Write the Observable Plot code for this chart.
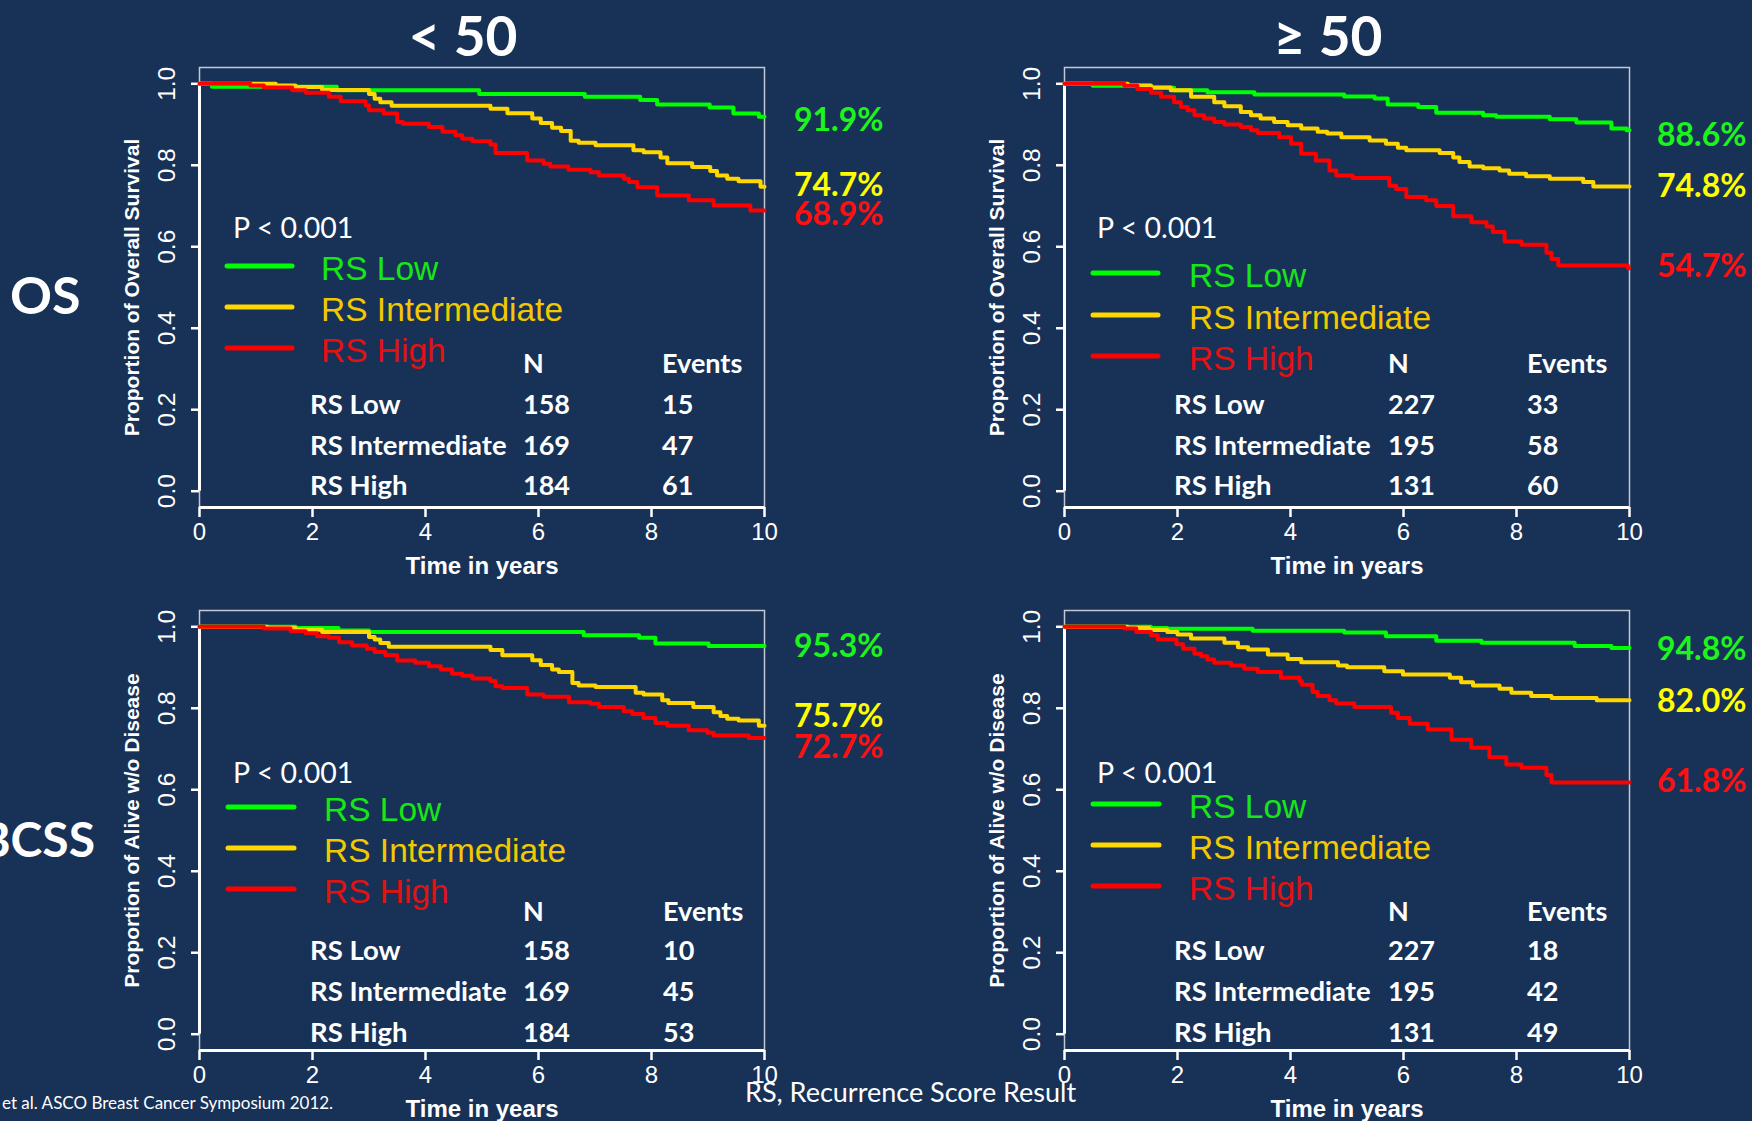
<!DOCTYPE html>
<html>
<head>
<meta charset="utf-8">
<script src="https://cdn.jsdelivr.net/npm/d3@7"></script>
<script src="https://cdn.jsdelivr.net/npm/@observablehq/plot@0.6"></script>
<style>
  html, body { margin: 0; padding: 0; background: #173157; }
  #page { position: relative; width: 1752px; height: 1121px; overflow: hidden; background: #173157; }
  #page .panel { position: absolute; width: 685px; height: 525px; }
  #page svg.overlay { position: absolute; left: 0; top: 0; pointer-events: none; }
</style>
</head>
<body>
<div id="page"></div>
<script>
// Kaplan–Meier step curves: [years, proportion surviving]
const osU50Low = [[0,1],[0.22,0.993],[2.43,0.984],[4.95,0.975],[6.82,0.968],[7.8,0.96],[8.1,0.949],[9.03,0.942],[9.45,0.927],[9.9,0.919],[10,0.919]];
const osU50Int = [[0,1],[1.35,0.996],[1.7,0.992],[2.17,0.985],[3.0,0.975],[3.1,0.963],[3.2,0.955],[3.4,0.946],[5.15,0.939],[5.45,0.928],[5.89,0.915],[6.04,0.904],[6.24,0.892],[6.4,0.884],[6.57,0.86],[6.71,0.855],[7.01,0.849],[7.68,0.837],[7.86,0.832],[8.16,0.819],[8.28,0.805],[8.72,0.796],[9.04,0.786],[9.16,0.775],[9.34,0.767],[9.54,0.761],[9.93,0.747],[10,0.747]];
const osU50High = [[0,1],[0.9,0.996],[1.14,0.991],[1.64,0.984],[1.88,0.978],[2.29,0.968],[2.5,0.957],[2.94,0.947],[3.0,0.935],[3.26,0.927],[3.5,0.906],[3.6,0.902],[4.06,0.894],[4.3,0.882],[4.53,0.874],[4.65,0.865],[4.83,0.859],[5.15,0.851],[5.24,0.83],[5.8,0.812],[6.09,0.804],[6.21,0.797],[6.53,0.789],[6.92,0.783],[7.07,0.775],[7.51,0.767],[7.6,0.759],[7.75,0.746],[8.1,0.726],[8.66,0.714],[9.1,0.701],[9.75,0.689],[10,0.689]];

const osO50Low = [[0,1],[0.5,0.995],[1.53,0.99],[1.94,0.984],[2.53,0.979],[3.36,0.974],[4.95,0.969],[5.49,0.964],[5.72,0.949],[6.26,0.943],[6.58,0.929],[7.41,0.923],[7.64,0.919],[8.59,0.913],[9.06,0.905],[9.68,0.89],[9.95,0.886],[10,0.886]];
const osO50Int = [[0,1],[1.12,0.996],[1.53,0.991],[1.88,0.984],[2.24,0.968],[2.65,0.955],[2.83,0.945],[3.12,0.931],[3.3,0.923],[3.47,0.915],[3.71,0.906],[3.95,0.898],[4.19,0.89],[4.48,0.882],[4.65,0.878],[4.9,0.869],[5.4,0.861],[5.69,0.853],[5.9,0.843],[6.05,0.837],[6.64,0.83],[6.88,0.819],[6.99,0.808],[7.17,0.797],[7.41,0.793],[7.7,0.787],[7.87,0.779],[8.17,0.773],[8.59,0.767],[9.18,0.759],[9.36,0.748],[10,0.748]];
const osO50High = [[0,1],[1.06,0.995],[1.29,0.987],[1.53,0.978],[1.71,0.968],[1.94,0.955],[2.06,0.943],[2.18,0.935],[2.3,0.923],[2.47,0.915],[2.65,0.906],[2.83,0.9],[3.12,0.894],[3.3,0.886],[3.42,0.879],[3.8,0.869],[4.01,0.853],[4.19,0.828],[4.45,0.812],[4.69,0.787],[4.81,0.775],[5.1,0.769],[5.75,0.75],[5.87,0.742],[6.05,0.722],[6.4,0.714],[6.58,0.7],[6.88,0.675],[7.2,0.66],[7.47,0.65],[7.58,0.636],[7.79,0.613],[8.09,0.605],[8.53,0.585],[8.62,0.57],[8.74,0.554],[9.97,0.547],[10,0.547]];

const bcssU50Low = [[0,1],[1.7,0.997],[2.46,0.991],[3.0,0.987],[6.8,0.979],[7.78,0.973],[8.07,0.959],[9.01,0.953],[10,0.953]];
const bcssU50Int = [[0,1],[1.2,0.997],[1.7,0.993],[2.17,0.987],[3.0,0.975],[3.1,0.969],[3.2,0.96],[3.35,0.951],[5.15,0.943],[5.36,0.93],[5.89,0.918],[6.04,0.906],[6.24,0.895],[6.36,0.889],[6.6,0.862],[6.71,0.856],[7.01,0.852],[7.72,0.838],[7.86,0.834],[8.19,0.82],[8.3,0.813],[8.74,0.803],[9.1,0.79],[9.22,0.781],[9.34,0.774],[9.54,0.77],[9.9,0.757],[10,0.757]];
const bcssU50High = [[0,1],[1.14,0.996],[1.61,0.989],[1.88,0.984],[2.08,0.977],[2.29,0.973],[2.47,0.962],[2.7,0.954],[2.96,0.946],[3.1,0.938],[3.29,0.93],[3.5,0.917],[3.82,0.912],[4.06,0.903],[4.27,0.895],[4.47,0.885],[4.65,0.88],[4.83,0.873],[5.15,0.867],[5.24,0.854],[5.36,0.85],[5.8,0.834],[6.09,0.828],[6.54,0.815],[6.92,0.811],[7.07,0.803],[7.51,0.793],[7.66,0.786],[7.86,0.776],[8.07,0.764],[8.28,0.757],[8.66,0.746],[8.99,0.74],[9.1,0.733],[9.72,0.727],[10,0.727]];

const bcssO50Low = [[0,1],[1.53,0.997],[1.82,0.995],[3.33,0.99],[4.95,0.986],[5.69,0.977],[6.58,0.966],[7.38,0.961],[9.03,0.953],[9.68,0.948],[10,0.948]];
const bcssO50Int = [[0,1],[1.12,0.997],[1.5,0.992],[1.82,0.987],[2.0,0.981],[2.24,0.971],[2.83,0.961],[3.07,0.95],[3.25,0.944],[3.6,0.932],[3.95,0.921],[4.19,0.913],[4.84,0.905],[5.0,0.901],[5.66,0.891],[5.99,0.883],[6.82,0.875],[7.02,0.864],[7.23,0.856],[7.7,0.848],[7.91,0.838],[8.26,0.83],[8.62,0.825],[9.42,0.82],[10,0.82]];
const bcssO50High = [[0,1],[1.06,0.996],[1.27,0.987],[1.53,0.979],[1.65,0.969],[1.98,0.957],[2.1,0.946],[2.3,0.934],[2.42,0.928],[2.53,0.92],[2.65,0.912],[2.95,0.905],[3.18,0.897],[3.42,0.889],[3.83,0.875],[4.16,0.867],[4.2,0.858],[4.39,0.84],[4.48,0.83],[4.69,0.82],[4.81,0.812],[5.13,0.803],[5.78,0.789],[5.9,0.776],[6.11,0.762],[6.43,0.748],[6.85,0.723],[7.2,0.703],[7.52,0.68],[7.82,0.662],[8.09,0.654],[8.53,0.636],[8.62,0.618],[10,0.618]];

// Groups, counts and events
const groups = ["RS Low", "RS Intermediate", "RS High"];
const nUnder50 = [158, 169, 184];
const nOver50 = [227, 195, 131];
const eventsOsUnder50 = [15, 47, 61];
const eventsOsOver50 = [33, 58, 60];
const eventsBcssUnder50 = [10, 45, 53];
const eventsBcssOver50 = [18, 42, 49];

// Axis ticks and labels
const xTicks = [0, 2, 4, 6, 8, 10];
const yTicks = [0, 0.2, 0.4, 0.6, 0.8, 1.0];
const columnTitles = ["< 50", "\u2265 50"];
const rowTitles = ["OS", "BCSS"];
const yLabels = ["Proportion of Overall Survival", "Proportion of Alive w/o Disease"];
const xLabel = "Time in years";
const pValue = "P < 0.001";

const lineColor = {"RS Low": "#00ff00", "RS Intermediate": "#ffd700", "RS High": "#ff0000"};
const legendTextColor = {"RS Low": "#17e617", "RS Intermediate": "#f2c800", "RS High": "#e31212"};
const pctColor = {"RS Low": "#1cf51c", "RS Intermediate": "#ffff00", "RS High": "#ff1010"};

const panels = [
  {curves: [osU50Low, osU50Int, osU50High], n: nUnder50, events: eventsOsUnder50, yLabel: yLabels[0],
   left: 89, top: 57,
   p: [233, 238], lineX: [227, 292], lineY: [266, 307, 348], textX: 321, textBase: [279.5, 320.5, 361.5],
   rowX: 310, nX: 523, evX: 662, headBase: 373, rowBase: [414, 454.5, 495],
   pctX: 794, pctBase: [131.4, 195.7, 225]},
  {curves: [osO50Low, osO50Int, osO50High], n: nOver50, events: eventsOsOver50, yLabel: yLabels[0],
   left: 954, top: 57,
   p: [1097, 238], lineX: [1093, 1158], lineY: [273, 315, 356], textX: 1189, textBase: [287, 328.5, 369.5],
   rowX: 1174, nX: 1388, evX: 1527, headBase: 373, rowBase: [414, 454.5, 495],
   pctX: 1657, pctBase: [145.7, 197, 276.8]},
  {curves: [bcssU50Low, bcssU50Int, bcssU50High], n: nUnder50, events: eventsBcssUnder50, yLabel: yLabels[1],
   left: 89, top: 600,
   p: [233, 782.5], lineX: [228, 294], lineY: [807, 848, 889], textX: 324, textBase: [820.5, 861.5, 902.5],
   rowX: 310, nX: 523, evX: 663, headBase: 921, rowBase: [960, 1001, 1041.5],
   pctX: 794, pctBase: [657.3, 727.4, 757.5]},
  {curves: [bcssO50Low, bcssO50Int, bcssO50High], n: nOver50, events: eventsBcssOver50, yLabel: yLabels[1],
   left: 954, top: 600,
   p: [1097, 782.5], lineX: [1093, 1159], lineY: [804, 845, 886], textX: 1189, textBase: [817.5, 858.5, 899.5],
   rowX: 1174, nX: 1388, evX: 1527, headBase: 921, rowBase: [960, 1001, 1041.5],
   pctX: 1657, pctBase: [659.5, 712, 791.8]}
];

const page = document.getElementById("page");

function survivalPanel(cfg) {
  const series = cfg.curves.map((pairs, i) => pairs.map(([t, s]) => ({t, s, group: groups[i]})));
  return Plot.plot({
    width: 685, height: 525,
    marginLeft: 110, marginRight: 10, marginTop: 10, marginBottom: 75,
    x: {domain: [0, 10]},
    y: {domain: [-0.04, 1.04]},
    style: {background: "transparent", color: "white", fontFamily: "'Liberation Sans', Arial, sans-serif", overflow: "visible"},
    marks: [
      Plot.frame({stroke: "#c3c8d2", strokeWidth: 1.5}),
      Plot.axisX({ticks: xTicks, tickSize: 10, tickPadding: 5, fontSize: 24, strokeWidth: 2.5, stroke: "white", fill: "white", label: null}),
      Plot.axisY({ticks: yTicks, tickSize: 8, tickFormat: () => "", strokeWidth: 2.5, stroke: "white", label: null}),
      Plot.ruleY([-0.04], {stroke: "white", strokeWidth: 3}),
      Plot.ruleX([0], {y1: 0, y2: 1, stroke: "white", strokeWidth: 3}),
      Plot.text(yTicks, {x: () => 0, y: d => d, text: d => d.toFixed(1), rotate: -90, dx: -32,
        fontSize: 24.5, fill: "white", textAnchor: "middle", lineAnchor: "middle"}),
      Plot.text([cfg.yLabel], {text: d => d, frameAnchor: "left", rotate: -90, dx: -67,
        fontSize: 21, fontWeight: "bold", fill: "white", textAnchor: "middle", lineAnchor: "middle"}),
      Plot.text([xLabel], {text: d => d, frameAnchor: "bottom", dy: 59,
        fontSize: 24, fontWeight: "bold", fill: "white", textAnchor: "middle", lineAnchor: "middle"}),
      ...series.map(data => Plot.line(data, {x: "t", y: "s", stroke: lineColor[data[0].group],
        strokeWidth: 4, curve: "step-after"}))
    ]
  });
}

panels.forEach(cfg => {
  const div = document.createElement("div");
  div.className = "panel";
  div.style.left = cfg.left + "px";
  div.style.top = cfg.top + "px";
  div.appendChild(survivalPanel(cfg));
  page.appendChild(div);
});

// Titles, legends, counts table and end-of-follow-up percentages
const svg = d3.select(page).append("svg").attr("class", "overlay").attr("width", 1752).attr("height", 1121);
function label(x, y, s, o = {}) {
  svg.append("text").attr("x", x).attr("y", y).text(s)
    .attr("fill", o.fill || "white")
    .attr("font-family", o.family || "Lato, 'Open Sans', sans-serif")
    .attr("font-size", o.size || 26)
    .attr("font-weight", o.weight || "normal")
    .attr("text-anchor", o.anchor || "start");
}

label(463, 55.5, columnTitles[0], {size: 55, weight: "bold", anchor: "middle"});
label(1328, 55.5, columnTitles[1], {size: 55, weight: "bold", anchor: "middle"});
label(10, 314, rowTitles[0], {size: 52, weight: "bold"});
label(95, 857, rowTitles[1], {size: 48, weight: "bold", anchor: "end"});

const pct = d3.format(".1%");
panels.forEach(cfg => {
  label(cfg.p[0], cfg.p[1], pValue, {size: 28.5});
  groups.forEach((g, i) => {
    svg.append("line")
      .attr("x1", cfg.lineX[0]).attr("x2", cfg.lineX[1])
      .attr("y1", cfg.lineY[i]).attr("y2", cfg.lineY[i])
      .attr("stroke", lineColor[g]).attr("stroke-width", 5).attr("stroke-linecap", "round");
    label(cfg.textX, cfg.textBase[i], g, {size: 33.5, fill: legendTextColor[g], family: "'Liberation Sans', Arial, sans-serif"});
    label(cfg.rowX, cfg.rowBase[i], g, {size: 27.5, weight: "bold"});
    label(cfg.nX, cfg.rowBase[i], cfg.n[i], {size: 27, weight: "bold"});
    label(cfg.evX, cfg.rowBase[i], cfg.events[i], {size: 27, weight: "bold"});
    const last = cfg.curves[i][cfg.curves[i].length - 1][1];
    label(cfg.pctX, cfg.pctBase[i], pct(last), {size: 32, weight: "bold", fill: pctColor[g]});
  });
  label(cfg.nX, cfg.headBase, "N", {size: 27, weight: "bold"});
  label(cfg.evX, cfg.headBase, "Events", {size: 27, weight: "bold"});
});

label(2, 1109, "et al. ASCO Breast Cancer Symposium 2012.", {size: 17});
label(745, 1102, "RS, Recurrence Score Result", {size: 27});
</script>
</body>
</html>
